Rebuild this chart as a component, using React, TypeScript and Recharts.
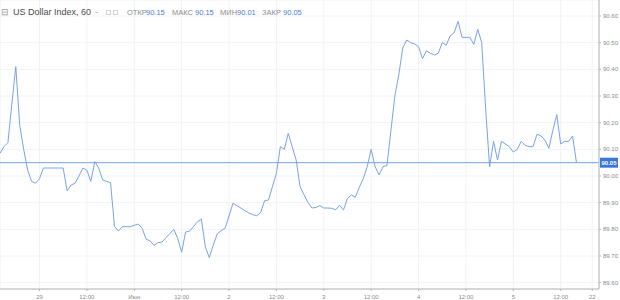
import React from "react";
import { LineChart, Line, XAxis, YAxis, CartesianGrid, ReferenceLine } from "recharts";

// hourly closes, first bar is 10 hours before the start of day "29"
const START_HOUR = -10;
const closeValues = [
  90.085, 90.11, 90.125, 90.27, 90.41, 90.19, 90.1, 90.022, 89.98, 89.973,
  89.99, 90.03, 90.03, 90.03, 90.03, 90.03, 90.03, 89.944, 89.966, 89.973,
  90.0, 90.03, 90.022, 89.98, 90.054, 90.03, 89.985, 89.98, 89.975, 89.81,
  89.794, 89.81, 89.81, 89.81, 89.815, 89.82, 89.804, 89.763, 89.757, 89.74,
  89.75, 89.752, 89.768, 89.784, 89.8, 89.766, 89.714, 89.79, 89.793, 89.81,
  89.829, 89.838, 89.735, 89.694, 89.74, 89.783, 89.795, 89.804, 89.85, 89.898,
  89.889, 89.88, 89.87, 89.862, 89.855, 89.851, 89.862, 89.907, 89.91, 89.96,
  90.01, 90.11, 90.1, 90.16, 90.11, 90.06, 89.96, 89.93, 89.9, 89.88,
  89.882, 89.889, 89.88, 89.88, 89.879, 89.873, 89.89, 89.873, 89.916, 89.929,
  89.92, 89.958, 89.99, 90.035, 90.1, 90.035, 90.004, 90.035, 90.039, 90.17,
  90.3, 90.38, 90.48, 90.51, 90.5, 90.495, 90.485, 90.44, 90.47, 90.46,
  90.454, 90.46, 90.5, 90.49, 90.525, 90.537, 90.58, 90.52, 90.52, 90.52,
  90.494, 90.55, 90.5, 90.25, 90.035, 90.13, 90.06, 90.13, 90.12, 90.11,
  90.09, 90.1, 90.13, 90.115, 90.11, 90.11, 90.157, 90.15, 90.135, 90.104,
  90.17, 90.23, 90.12, 90.13, 90.13, 90.15, 90.05,
];

const xTicks = [0, 12, 24, 36, 48, 60, 72, 84, 96, 108, 120, 132, 140];
const xTickLabels = ["29", "12:00", "Июн", "12:00", "2", "12:00", "3", "12:00", "4", "12:00", "5", "12:00", "22"];
const yTicks = [89.6, 89.7, 89.8, 89.9, 90.0, 90.1, 90.2, 90.3, 90.4, 90.5, 90.6];
const lastClose = 90.05;

const headerTitle = "US Dollar Index, 60";
const ohlcLabels = ["ОТКР", "МАКС", "МИН", "ЗАКР"];
const ohlcValues = ["90.15", "90.15", "90.01", "90.05"];
const ohlcLabelLeft = [127, 172, 220, 262];
const ohlcValueLeft = [146, 195, 237, 283];

const data = closeValues.map((v, i) => ({ h: i + START_HOUR, v }));

const FONT = "'Liberation Sans', Arial, sans-serif";
const LINE_COLOR = "#76a3ea";
const GRID_COLOR = "#f0f2f6";
const AXIS_COLOR = "#b4b4b4";
const LABEL_COLOR = "#8c8c8c";

const XTick = (props: any) => {
  const { x, y, payload } = props;
  const idx = xTicks.indexOf(payload.value);
  return (
    <text x={x} y={y + 6} textAnchor="middle" fontSize={6} fontFamily={FONT} fill={LABEL_COLOR}>
      {xTickLabels[idx]}
    </text>
  );
};

const YTick = (props: any) => {
  const { x, y, payload } = props;
  return (
    <text x={x} y={y + 2} textAnchor="start" fontSize={6} fontFamily={FONT} fill={LABEL_COLOR}>
      {Number(payload.value).toFixed(2)}
    </text>
  );
};

const PriceLabel = (props: any) => {
  const { viewBox } = props;
  const x0 = viewBox.x + viewBox.width;
  const y0 = viewBox.y;
  return (
    <g>
      <rect x={x0 + 1} y={y0 - 5} width={18} height={10} fill="#3a78d6" />
      <text x={x0 + 2.5} y={y0 + 2.2} fontSize={6} fontWeight="bold" fontFamily={FONT} fill="#ffffff">
        {lastClose.toFixed(2)}
      </text>
    </g>
  );
};

export default function App() {
  return (
    <div style={{ position: "absolute", left: 0, top: 0, width: 620, height: 300, background: "#ffffff", overflow: "hidden" }}>
      <LineChart width={620} height={300} data={data} margin={{ top: 0, right: 0, bottom: 0, left: 0 }}>
        <CartesianGrid stroke={GRID_COLOR} strokeWidth={1} />
        <XAxis
          type="number"
          dataKey="h"
          domain={[-10, 141.7]}
          ticks={xTicks}
          allowDataOverflow
          height={11}
          axisLine={{ stroke: AXIS_COLOR }}
          tickLine={{ stroke: AXIS_COLOR }}
          tickSize={2}
          tick={<XTick />}
          interval={0}
        />
        <YAxis
          orientation="right"
          type="number"
          domain={[89.5763, 90.66]}
          ticks={yTicks}
          allowDataOverflow
          width={21}
          axisLine={{ stroke: AXIS_COLOR }}
          tickLine={{ stroke: AXIS_COLOR }}
          tickSize={2}
          tick={<YTick />}
          interval={0}
        />
        <ReferenceLine y={lastClose} stroke={LINE_COLOR} strokeWidth={1} label={<PriceLabel />} />
        <Line
          type="linear"
          dataKey="v"
          stroke={LINE_COLOR}
          strokeWidth={1}
          dot={false}
          isAnimationActive={false}
        />
      </LineChart>
      <div style={{ position: "absolute", left: 0, top: 0, width: 620, height: 24, fontFamily: FONT }}>
        <span style={{ position: "absolute", left: 1, top: 7, fontSize: 9, lineHeight: "11px", color: "#999" }}>⊟</span>
        <span style={{ position: "absolute", left: 13, top: 7, fontSize: 9, lineHeight: "11px", color: "#4a4a4a" }}>{headerTitle}</span>
        <span style={{ position: "absolute", left: 95, top: 7, fontSize: 9, lineHeight: "11px", color: "#aaa" }}>-</span>
        <span style={{ position: "absolute", left: 106, top: 10, width: 5, height: 5, border: "1px solid #d4d4d4", boxSizing: "border-box" }} />
        <span style={{ position: "absolute", left: 113, top: 10, width: 5, height: 5, border: "1px solid #d4d4d4", boxSizing: "border-box" }} />
        {ohlcLabels.map((lbl, i) => (
          <React.Fragment key={lbl}>
            <span style={{ position: "absolute", left: ohlcLabelLeft[i], top: 8, fontSize: 7.5, lineHeight: "10px", color: "#8c8c8c" }}>{lbl}</span>
            <span style={{ position: "absolute", left: ohlcValueLeft[i], top: 8, fontSize: 7.5, lineHeight: "10px", color: "#4a80d0" }}>{ohlcValues[i]}</span>
          </React.Fragment>
        ))}
      </div>
    </div>
  );
}
